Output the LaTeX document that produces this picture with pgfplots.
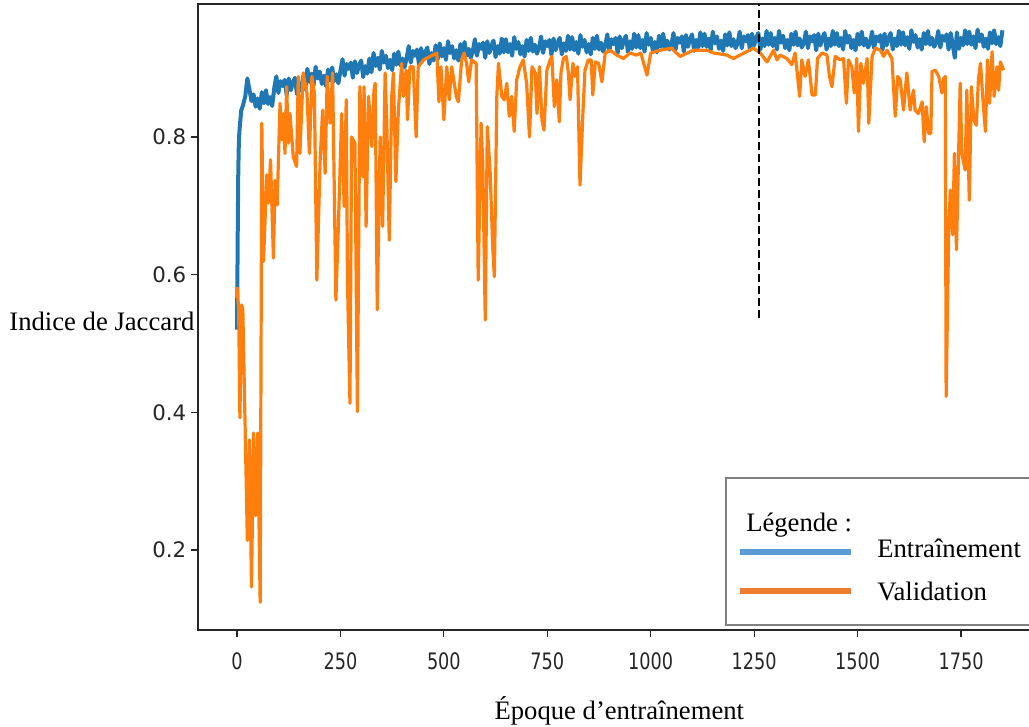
\documentclass[border=0pt]{standalone}
\usepackage{pgfplots}
\pgfplotsset{compat=1.18}
\usepackage{fontspec}
\setmainfont{Liberation Serif}
\newfontfamily\dejavu{DejaVu Sans}
\definecolor{mplblue}{HTML}{1F77B4}
\definecolor{mplorange}{HTML}{FF7F0E}
\definecolor{legblue}{HTML}{5B9BD5}
\definecolor{legorange}{HTML}{ED7D31}
\definecolor{legframe}{HTML}{7F7F7F}

\begin{document}
\begin{tikzpicture}
% page = 1029 x 727 px at 0.75pt per px, axis box lower-left at (0,0)
\useasboundingbox (-148.5pt,-72.75pt) rectangle (623.25pt,472.5pt);
\begin{axis}[
  at={(0pt,0pt)}, anchor=south west,
  scale only axis, width=632pt, height=469.5pt,
  xmin=-94.3, xmax=1942.5, ymin=0.0837, ymax=0.9932,
  axis line style={line width=1pt, black!85},
  tick pos=left, tick align=outside, major tick length=5.25pt,
  tick style={line width=0.9pt, black!85},
  xtick={0,250,...,1750}, xticklabels={0,250,500,750,1000,1250,1500,1750},
  ytick={0.2,0.4,0.6,0.8}, yticklabels={0.2,0.4,0.6,0.8},
  xticklabel style={font=\dejavu\fontsize{17}{17}\selectfont, xscale=0.78, yshift=-8pt, text=black!85},
  yticklabel style={font=\dejavu\fontsize{16}{16}\selectfont, text=black!85},
  xlabel={Époque d’entraînement}, ylabel={Indice de Jaccard},
  label style={font=\fontsize{20}{24}\selectfont},
  xlabel style={at={(axis description cs:0.5,-0.1294)}, anchor=center},
  ylabel style={at={(axis description cs:-0.114,0.4936)}, anchor=center, rotate=-90},
]
% training
\addplot[mplblue, line width=3pt, line join=round] coordinates {
(0,0.520)(1,0.600)(2,0.680)(3,0.745)(4,0.780)(5,0.800)(7,0.818)(9,0.830)
(10,0.838)(15,0.847)(20,0.859)(25,0.885)(30,0.869)(35,0.852)(40,0.862)(45,0.844)
(50,0.856)(55,0.841)(60,0.865)(65,0.849)(70,0.868)(75,0.848)(80,0.858)(85,0.845)
(90,0.871)(95,0.888)(100,0.864)(105,0.881)(110,0.874)(115,0.883)(120,0.861)(125,0.885)
(130,0.868)(135,0.879)(140,0.886)(145,0.862)(150,0.878)(155,0.867)(160,0.889)(165,0.869)
(170,0.899)(175,0.880)(180,0.892)(185,0.875)(190,0.902)(195,0.885)(200,0.895)(205,0.877)
(210,0.889)(215,0.874)(220,0.898)(225,0.882)(230,0.901)(235,0.881)(240,0.891)(245,0.878)
(250,0.896)(255,0.913)(260,0.889)(265,0.906)(270,0.899)(275,0.908)(280,0.886)(285,0.910)
(290,0.893)(295,0.904)(300,0.911)(305,0.887)(310,0.903)(315,0.892)(320,0.914)(325,0.894)
(330,0.922)(335,0.903)(340,0.915)(345,0.898)(350,0.925)(355,0.908)(360,0.918)(365,0.900)
(370,0.912)(375,0.897)(380,0.921)(385,0.905)(390,0.924)(395,0.904)(400,0.914)(405,0.901)
(410,0.915)(415,0.932)(420,0.908)(425,0.925)(430,0.918)(435,0.927)(440,0.905)(445,0.929)
(450,0.912)(455,0.923)(460,0.930)(465,0.906)(470,0.922)(475,0.911)(480,0.933)(485,0.913)
(490,0.936)(495,0.917)(500,0.929)(505,0.912)(510,0.939)(515,0.922)(520,0.932)(525,0.914)
(530,0.926)(535,0.911)(540,0.935)(545,0.919)(550,0.938)(555,0.918)(560,0.928)(565,0.915)
(570,0.925)(575,0.942)(580,0.918)(585,0.935)(590,0.928)(595,0.937)(600,0.915)(605,0.939)
(610,0.922)(615,0.933)(620,0.940)(625,0.916)(630,0.932)(635,0.921)(640,0.943)(645,0.923)
(650,0.942)(655,0.923)(660,0.935)(665,0.918)(670,0.945)(675,0.928)(680,0.938)(685,0.920)
(690,0.932)(695,0.917)(700,0.941)(705,0.925)(710,0.944)(715,0.924)(720,0.934)(725,0.921)
(730,0.929)(735,0.946)(740,0.922)(745,0.939)(750,0.932)(755,0.941)(760,0.919)(765,0.943)
(770,0.926)(775,0.937)(780,0.944)(785,0.920)(790,0.936)(795,0.925)(800,0.947)(805,0.927)
(810,0.945)(815,0.926)(820,0.938)(825,0.921)(830,0.948)(835,0.931)(840,0.941)(845,0.923)
(850,0.935)(855,0.920)(860,0.944)(865,0.928)(870,0.947)(875,0.927)(880,0.937)(885,0.924)
(890,0.932)(895,0.949)(900,0.925)(905,0.942)(910,0.935)(915,0.944)(920,0.922)(925,0.946)
(930,0.929)(935,0.940)(940,0.947)(945,0.923)(950,0.939)(955,0.928)(960,0.950)(965,0.930)
(970,0.948)(975,0.929)(980,0.941)(985,0.924)(990,0.951)(995,0.934)(1000,0.944)(1005,0.926)
(1010,0.938)(1015,0.923)(1020,0.947)(1025,0.931)(1030,0.950)(1035,0.930)(1040,0.940)(1045,0.927)
(1050,0.934)(1055,0.951)(1060,0.927)(1065,0.944)(1070,0.937)(1075,0.946)(1080,0.924)(1085,0.948)
(1090,0.931)(1095,0.942)(1100,0.949)(1105,0.925)(1110,0.941)(1115,0.930)(1120,0.952)(1125,0.932)
(1130,0.950)(1135,0.931)(1140,0.943)(1145,0.926)(1150,0.953)(1155,0.936)(1160,0.946)(1165,0.928)
(1170,0.940)(1175,0.925)(1180,0.949)(1185,0.933)(1190,0.952)(1195,0.932)(1200,0.942)(1205,0.929)
(1210,0.936)(1215,0.953)(1220,0.929)(1225,0.946)(1230,0.939)(1235,0.948)(1240,0.926)(1245,0.950)
(1250,0.933)(1255,0.944)(1260,0.951)(1265,0.927)(1270,0.943)(1275,0.932)(1280,0.954)(1285,0.934)
(1290,0.951)(1295,0.932)(1300,0.944)(1305,0.927)(1310,0.954)(1315,0.937)(1320,0.947)(1325,0.929)
(1330,0.941)(1335,0.926)(1340,0.950)(1345,0.934)(1350,0.953)(1355,0.933)(1360,0.943)(1365,0.930)
(1370,0.936)(1375,0.953)(1380,0.929)(1385,0.946)(1390,0.939)(1395,0.948)(1400,0.926)(1405,0.950)
(1410,0.933)(1415,0.944)(1420,0.951)(1425,0.927)(1430,0.943)(1435,0.932)(1440,0.954)(1445,0.934)
(1450,0.951)(1455,0.932)(1460,0.944)(1465,0.927)(1470,0.954)(1475,0.937)(1480,0.947)(1485,0.929)
(1490,0.941)(1495,0.926)(1500,0.950)(1505,0.934)(1510,0.953)(1515,0.933)(1520,0.943)(1525,0.930)
(1530,0.936)(1535,0.953)(1540,0.929)(1545,0.946)(1550,0.939)(1555,0.948)(1560,0.926)(1565,0.950)
(1570,0.933)(1575,0.944)(1580,0.951)(1585,0.927)(1590,0.943)(1595,0.932)(1600,0.954)(1605,0.934)
(1610,0.952)(1615,0.933)(1620,0.945)(1625,0.928)(1630,0.955)(1635,0.938)(1640,0.948)(1645,0.930)
(1650,0.942)(1655,0.927)(1660,0.951)(1665,0.935)(1670,0.954)(1675,0.934)(1680,0.944)(1685,0.931)
(1690,0.937)(1695,0.954)(1700,0.930)(1705,0.947)(1710,0.940)(1715,0.949)(1720,0.927)(1725,0.951)
(1730,0.934)(1735,0.915)(1740,0.952)(1745,0.928)(1750,0.944)(1755,0.933)(1760,0.955)(1765,0.935)
(1770,0.953)(1775,0.934)(1780,0.946)(1785,0.929)(1790,0.956)(1795,0.939)(1800,0.949)(1805,0.931)
(1810,0.943)(1815,0.928)(1820,0.952)(1825,0.936)(1830,0.955)(1835,0.935)(1840,0.945)(1845,0.932)
(1850,0.955)
};
% validation
\addplot[mplorange, line width=2.4pt, line join=round] coordinates {
(0,0.582)(4,0.550)(7,0.392)(11,0.556)(14,0.550)(25,0.214)(30,0.360)(35,0.146)
(40,0.370)(45,0.250)(50,0.370)(56,0.124)(60,0.820)(64,0.619)(72,0.745)(76,0.704)
(81,0.767)(88,0.624)(92,0.737)(97,0.701)(104,0.849)(108,0.796)(112,0.834)(116,0.776)
(120,0.873)(124,0.791)(128,0.834)(136,0.771)(144,0.757)(148,0.888)(152,0.776)(160,0.893)
(169,0.864)(175,0.776)(181,0.888)(187,0.864)(193,0.592)(201,0.767)(207,0.839)(213,0.747)
(218,0.888)(225,0.820)(231,0.893)(239,0.563)(245,0.670)(253,0.834)(259,0.699)(264,0.854)
(267,0.592)(273,0.413)(277,0.800)(285,0.791)(291,0.401)(297,0.873)(304,0.742)(307,0.873)
(312,0.670)(318,0.859)(326,0.786)(331,0.868)(334,0.878)(339,0.549)(346,0.800)(352,0.670)
(358,0.893)(362,0.820)(368,0.650)(374,0.859)(378,0.893)(384,0.735)(390,0.839)(398,0.907)
(402,0.859)(409,0.897)(412,0.825)(418,0.902)(426,0.902)(433,0.800)(438,0.902)(451,0.912)
(467,0.917)(483,0.922)(488,0.851)(493,0.902)(500,0.825)(507,0.902)(513,0.854)(519,0.902)
(530,0.859)(535,0.851)(543,0.912)(549,0.922)(555,0.907)(560,0.880)(567,0.912)(578,0.907)
(583,0.592)(590,0.820)(594,0.762)(600,0.534)(605,0.815)(612,0.747)(618,0.641)(622,0.597)
(628,0.859)(632,0.907)(640,0.859)(646,0.854)(652,0.878)(658,0.830)(664,0.859)(670,0.808)
(676,0.883)(684,0.902)(692,0.912)(700,0.878)(707,0.800)(713,0.902)(721,0.893)(725,0.834)
(731,0.902)(737,0.825)(742,0.810)(749,0.897)(757,0.912)(761,0.917)(767,0.844)(773,0.883)
(779,0.822)(783,0.893)(789,0.914)(796,0.917)(801,0.893)(805,0.854)(812,0.907)(817,0.888)
(823,0.902)(829,0.730)(836,0.834)(841,0.897)(849,0.912)(856,0.912)(860,0.861)(866,0.909)
(874,0.907)(882,0.880)(890,0.922)(902,0.926)(918,0.919)(934,0.914)(950,0.922)(966,0.919)
(976,0.922)(991,0.890)(1000,0.922)(1023,0.926)(1050,0.929)(1071,0.917)(1103,0.926)(1136,0.926)
(1152,0.922)(1184,0.919)(1200,0.914)(1216,0.919)(1248,0.929)(1265,0.922)(1281,0.909)(1297,0.926)
(1305,0.912)(1313,0.919)(1329,0.914)(1341,0.905)(1349,0.922)(1360,0.859)(1365,0.912)(1373,0.888)
(1381,0.912)(1390,0.861)(1398,0.861)(1403,0.914)(1414,0.922)(1426,0.919)(1432,0.888)(1438,0.873)
(1446,0.917)(1458,0.912)(1466,0.914)(1473,0.849)(1478,0.912)(1486,0.902)(1492,0.864)(1498,0.914)
(1502,0.808)(1508,0.907)(1514,0.878)(1523,0.914)(1527,0.820)(1535,0.917)(1543,0.929)(1555,0.926)
(1563,0.917)(1571,0.926)(1583,0.914)(1591,0.830)(1597,0.888)(1603,0.883)(1611,0.839)(1619,0.893)
(1627,0.839)(1635,0.868)(1639,0.839)(1647,0.834)(1656,0.851)(1661,0.793)(1666,0.844)(1672,0.805)
(1677,0.805)(1680,0.895)(1688,0.897)(1696,0.888)(1704,0.864)(1708,0.885)(1712,0.888)(1714,0.423)
(1720,0.655)(1724,0.723)(1730,0.658)(1734,0.776)(1739,0.636)(1744,0.771)(1748,0.878)(1752,0.776)
(1760,0.752)(1764,0.868)(1770,0.708)(1775,0.873)(1781,0.825)(1787,0.817)(1792,0.883)(1797,0.907)
(1803,0.854)(1809,0.808)(1814,0.912)(1819,0.849)(1825,0.924)(1830,0.859)(1837,0.902)(1841,0.868)
(1845,0.909)(1853,0.897)
};
% marker of the chosen epoch
\addplot[black, line width=1.1pt, dash pattern=on 6pt off 3pt] coordinates {(1262,0.537)(1262,0.9932)};
\end{axis}
% legend panel drawn over the figure
\draw[legframe, line width=1.6pt] (396pt,3.75pt) rectangle (640pt,114pt);
\node[anchor=base west, inner sep=0pt, font=\fontsize{20}{24}\selectfont] at (411pt,73.5pt) {Légende :};
\draw[legblue, line width=4.5pt] (406.5pt,58.5pt) -- (489.75pt,58.5pt);
\draw[legorange, line width=4.5pt] (406.5pt,29.25pt) -- (489.75pt,29.25pt);
\node[anchor=base west, inner sep=0pt, font=\fontsize{20}{24}\selectfont] at (509.25pt,54pt) {Entraînement};
\node[anchor=base west, inner sep=0pt, font=\fontsize{20}{24}\selectfont] at (509.25pt,21.75pt) {Validation};
\end{tikzpicture}
\end{document}
